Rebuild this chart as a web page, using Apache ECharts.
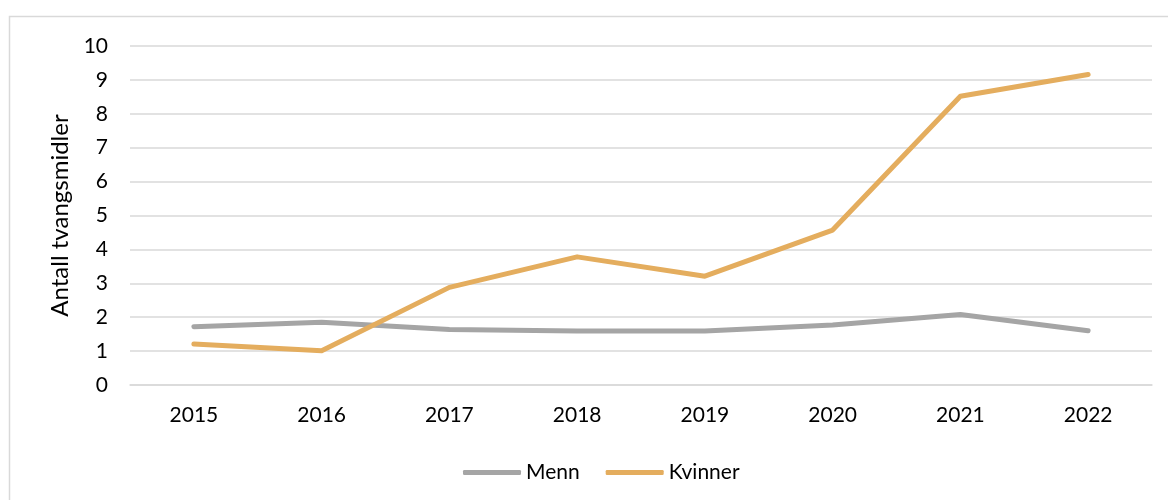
<!DOCTYPE html>
<html>
<head>
<meta charset="utf-8">
<script src="https://cdn.jsdelivr.net/npm/echarts@6/dist/echarts.min.js"></script>
<style>
  html, body { margin: 0; padding: 0; background: #fff; }
  #chart { width: 1168px; height: 500px; }
</style>
</head>
<body>
<div id="chart"></div>
<script>
const years = ["2015", "2016", "2017", "2018", "2019", "2020", "2021", "2022"];
const menn = [1.72, 1.85, 1.64, 1.59, 1.59, 1.77, 2.08, 1.6];
const kvinner = [1.21, 1.01, 2.88, 3.78, 3.21, 4.57, 8.52, 9.16];
const yTicks = [0, 1, 2, 3, 4, 5, 6, 7, 8, 9, 10];

const font = "Lato, 'Open Sans', sans-serif";
const chart = echarts.init(document.getElementById("chart"));

chart.setOption({
  animation: false,
  graphic: [
    {
      type: "rect",
      shape: { x: 9.5, y: 16.5, width: 1200, height: 600 },
      style: { fill: "none", stroke: "#d9d9d9", lineWidth: 1.5 },
      silent: true
    }
  ],
  grid: { left: 130, right: 16, top: 46, bottom: 115, containLabel: false },
  legend: {
    top: 457,
    left: 458,
    itemWidth: 58,
    itemHeight: 5,
    itemGap: 26,
    icon: "roundRect",
    textStyle: { fontFamily: font, fontSize: 21, color: "#000" },
    data: ["Menn", "Kvinner"]
  },
  xAxis: {
    type: "category",
    data: years,
    boundaryGap: true,
    axisLine: { lineStyle: { color: "#d9d9d9", width: 1.5 } },
    axisTick: { show: false },
    axisLabel: { margin: 20, fontFamily: font, fontSize: 21, color: "#000" }
  },
  yAxis: {
    type: "value",
    min: yTicks[0],
    max: yTicks[yTicks.length - 1],
    interval: 1,
    name: "Antall tvangsmidler",
    nameLocation: "middle",
    nameGap: 56,
    nameTextStyle: { fontFamily: font, fontSize: 24, color: "#000" },
    axisLine: { show: false },
    axisTick: { show: false },
    splitLine: { lineStyle: { color: "#d9d9d9", width: 1.5 } },
    axisLabel: { margin: 22, fontFamily: font, fontSize: 21, color: "#000" }
  },
  series: [
    {
      name: "Menn",
      type: "line",
      data: menn,
      symbol: "none",
      lineStyle: { color: "#a5a5a5", width: 5, cap: "round", join: "round" },
      itemStyle: { color: "#a5a5a5" }
    },
    {
      name: "Kvinner",
      type: "line",
      data: kvinner,
      symbol: "none",
      lineStyle: { color: "#e4ad5e", width: 5, cap: "round", join: "round" },
      itemStyle: { color: "#e4ad5e" }
    }
  ]
});
</script>
</body>
</html>
